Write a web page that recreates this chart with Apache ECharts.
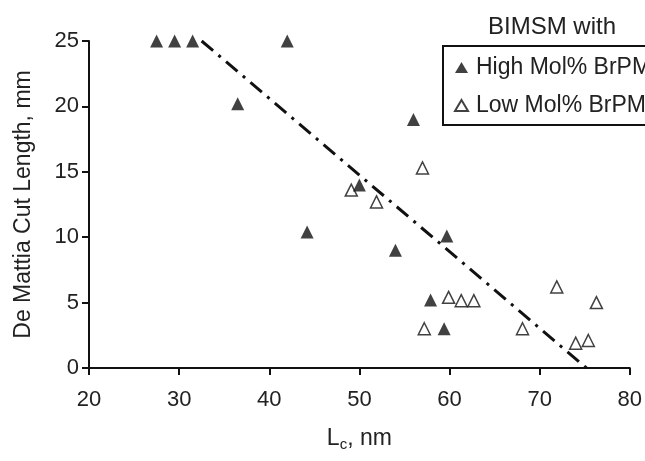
<!DOCTYPE html>
<html>
<head>
<meta charset="utf-8" />
<title>de mattia</title>
<script src="https://cdn.jsdelivr.net/npm/echarts@6/dist/echarts.min.js"></script>
<style>
  html, body { margin: 0; padding: 0; background: #fff; }
  #main { width: 645px; height: 461px; }
</style>
</head>
<body>
<div id="main"></div>
<script>
// high mol% BrPMS (filled)
var highX = [27.5, 29.5, 31.5, 42.0, 36.5, 44.2, 50.0, 54.0, 56.0, 59.7, 57.9, 59.4];
var highY = [25.0, 25.0, 25.0, 25.0, 20.2, 10.4, 14.0, 9.0, 19.0, 10.1, 5.2, 3.0];
// low mol% BrPMS (open)
var lowX = [49.1, 57.0, 51.9, 57.2, 59.9, 61.3, 62.7, 68.1, 71.9, 76.3, 74.0, 75.4];
var lowY = [13.6, 15.3, 12.7, 3.0, 5.4, 5.15, 5.15, 3.0, 6.2, 5.0, 1.9, 2.1];
// trend line end points
var trendX = [32.5, 75.2];
var trendY = [25, 0];

function pairs(xs, ys) {
    var out = [];
    for (var i = 0; i < xs.length; i++) out.push([xs[i], ys[i]]);
    return out;
}

var font = '"Liberation Sans", Arial, sans-serif';
var chart = echarts.init(document.getElementById('main'));

chart.setOption({
    animation: false,
    textStyle: { fontFamily: font, color: '#222' },
    title: {
        text: 'BIMSM with',
        left: 488, top: 15, padding: 0,
        textStyle: { fontFamily: font, fontSize: 24, fontWeight: 'normal', color: '#222' }
    },
    legend: {
        orient: 'vertical',
        left: 443, top: 46,
        padding: [10, 10, 8, 11],
        itemGap: 15,
        itemWidth: 13, itemHeight: 11,
        borderColor: '#111', borderWidth: 2,
        textStyle: { fontFamily: font, fontSize: 23, lineHeight: 23, color: '#222', padding: [0, 0, 0, 3] },
        data: [
            { name: 'High Mol% BrPMS', icon: 'triangle' },
            { name: 'Low Mol% BrPMS', icon: 'triangle' }
        ]
    },
    grid: { left: 89, right: 15, top: 41, bottom: 93 },
    xAxis: {
        type: 'value', min: 20, max: 80, interval: 10,
        name: '{a|L}{b|c}{a|, nm}',
        nameLocation: 'middle', nameGap: 58,
        nameTextStyle: {
            rich: {
                a: { fontFamily: font, fontSize: 23, color: '#222' },
                b: { fontFamily: font, fontSize: 15, color: '#222', verticalAlign: 'bottom', padding: [11, 0, 0, 0] }
            }
        },
        axisLine: { lineStyle: { color: '#111', width: 2 } },
        axisTick: { length: 7, lineStyle: { color: '#111', width: 2 } },
        axisLabel: { fontFamily: font, fontSize: 22, color: '#222', margin: 21 },
        splitLine: { show: false }
    },
    yAxis: {
        type: 'value', min: 0, max: 25, interval: 5,
        name: 'De Mattia Cut Length, mm',
        nameLocation: 'middle', nameGap: 54,
        nameTextStyle: { fontFamily: font, fontSize: 23, color: '#222' },
        axisLine: { show: true, lineStyle: { color: '#111', width: 2 } },
        axisTick: { show: true, length: 7, lineStyle: { color: '#111', width: 2 } },
        axisLabel: { fontFamily: font, fontSize: 22, color: '#222', margin: 10 },
        splitLine: { show: false }
    },
    series: [
        {
            name: 'trend', type: 'line',
            data: pairs(trendX, trendY),
            symbol: 'none',
            lineStyle: { color: '#111', width: 3, type: [15, 7, 3, 7] },
            z: 1
        },
        {
            name: 'Low Mol% BrPMS', type: 'scatter',
            data: pairs(lowX, lowY),
            symbol: 'triangle', symbolSize: 12,
            itemStyle: { color: '#fff', borderColor: '#111', borderWidth: 1.5 },
            z: 3
        },
        {
            name: 'High Mol% BrPMS', type: 'scatter',
            data: pairs(highX, highY),
            symbol: 'triangle', symbolSize: 13,
            itemStyle: { color: '#111' },
            z: 4
        }
    ]
});
</script>
</body>
</html>
